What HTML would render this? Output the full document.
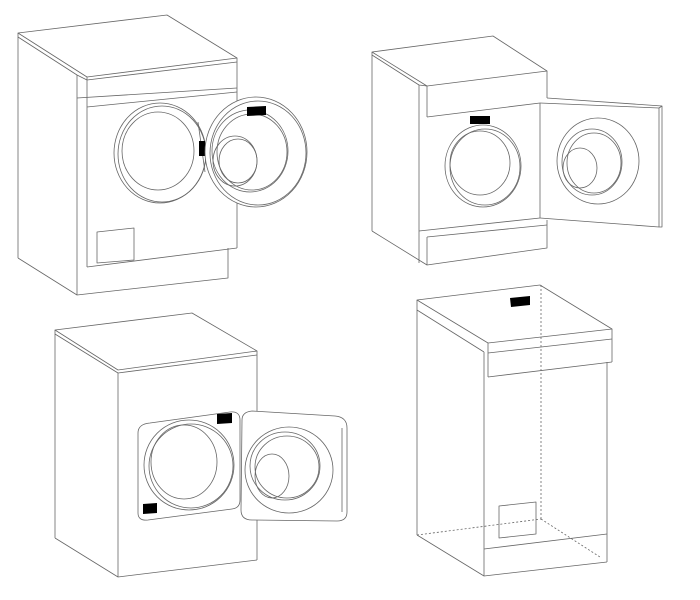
<!DOCTYPE html>
<html><head><meta charset="utf-8"><style>html,body{margin:0;padding:0;background:#fff}svg{display:block}</style></head>
<body>
<svg width="700" height="600" viewBox="0 0 700 600" xmlns="http://www.w3.org/2000/svg" fill="none" stroke="#666" stroke-width="0.8" stroke-linejoin="round">
<!-- Q1 -->
<polygon points="18,33 167,15 237,58 87,77"/>
<polyline points="18,37 77,75 87,80 237,62"/>
<line x1="18" y1="33" x2="18" y2="258"/>
<polyline points="18,258 77,295 228,278 228,248"/>
<line x1="77" y1="75" x2="77" y2="295"/>
<line x1="87" y1="77" x2="87" y2="267"/>
<line x1="237" y1="58" x2="237" y2="248"/>
<line x1="87" y1="267" x2="237" y2="248"/>
<line x1="77" y1="98" x2="237" y2="88"/>
<line x1="87" y1="107" x2="237" y2="92"/>
<polygon points="97,232 134,228 134,260 97,263"/>
<ellipse cx="160" cy="153" rx="46" ry="50"/>
<ellipse cx="162" cy="154" rx="44" ry="48"/>
<ellipse cx="158" cy="151" rx="36" ry="39"/>
<line x1="198" y1="122" x2="205" y2="172"/>
<rect x="199" y="141" width="6" height="15" fill="#000" stroke="none"/>
<ellipse cx="256" cy="152" rx="51" ry="55" fill="#fff"/>
<ellipse cx="258" cy="153" rx="48" ry="52"/>
<ellipse cx="250" cy="151" rx="38" ry="41"/>
<ellipse cx="252" cy="152" rx="35" ry="38"/>
<ellipse cx="235" cy="161" rx="22" ry="25"/>
<ellipse cx="238" cy="161" rx="19" ry="22"/>
<polygon points="247,107 266,106 266,115 247,116" fill="#000" stroke="none"/>
<!-- Q2 -->
<polygon points="372,52 493,36 547,71 427,86"/>
<polyline points="372,55 419,85 427,86"/>
<line x1="372" y1="52" x2="372" y2="231"/>
<polyline points="372,231 427,265 547,248 547,220"/>
<line x1="419" y1="85" x2="419" y2="263"/>
<line x1="427" y1="86" x2="427" y2="117"/>
<line x1="427" y1="117" x2="540" y2="103"/>
<line x1="547" y1="71" x2="547" y2="98"/>
<line x1="540" y1="103" x2="540" y2="218"/>
<line x1="419" y1="231" x2="540" y2="218"/>
<line x1="427" y1="237" x2="547" y2="225"/>
<line x1="427" y1="237" x2="427" y2="265"/>
<polyline points="547,98 662,106 662,227 659,227 540,218"/>
<polyline points="540,103 659,108 662,106"/>
<line x1="659" y1="108" x2="659" y2="227"/>
<rect x="470" y="116" width="20" height="8" fill="#000" stroke="none"/>
<ellipse cx="483" cy="166" rx="38" ry="41"/>
<ellipse cx="485" cy="167" rx="35" ry="38"/>
<ellipse cx="480" cy="163" rx="30" ry="32"/>
<ellipse cx="598" cy="161" rx="41" ry="43"/>
<ellipse cx="592" cy="162" rx="30" ry="33"/>
<ellipse cx="594" cy="163" rx="27" ry="30"/>
<ellipse cx="580" cy="168" rx="17" ry="20"/>
<!-- Q3 -->
<polygon points="55,330 192,313 257,351 118,370"/>
<polyline points="55,334 118,373 257,355"/>
<line x1="55" y1="330" x2="55" y2="538"/>
<line x1="118" y1="373" x2="118" y2="577"/>
<line x1="257" y1="351" x2="257" y2="560"/>
<polyline points="55,538 118,577 257,560"/>
<path d="M150,423 L230,412 Q240,411 240,420 L240,500 Q240,508 232,509 L148,520 Q138,521 138,513 L138,433 Q138,424 150,423 Z" fill="#fff"/>
<polygon points="217,414 232,413 232,423 217,424" fill="#000" stroke="none"/>
<polygon points="143,504 157,503 157,513 143,514" fill="#000" stroke="none"/>
<ellipse cx="189" cy="465" rx="45" ry="45"/>
<ellipse cx="191" cy="466" rx="42" ry="42"/>
<ellipse cx="184" cy="462" rx="33" ry="37"/>
<path d="M242,420 Q242,412 252,411 L335,416 Q347,417 347,428 L347,512 Q347,521 337,521 L252,520 Q241,520 241,510 Z" fill="#fff"/>
<line x1="342" y1="428" x2="342" y2="512"/>
<ellipse cx="289" cy="470" rx="44" ry="43"/>
<ellipse cx="285" cy="466" rx="35" ry="34"/>
<ellipse cx="287" cy="467" rx="32" ry="31"/>
<ellipse cx="272" cy="476" rx="17" ry="22"/>
<!-- Q4 -->
<polygon points="417,300 540,285 612,329 488,343"/>
<line x1="417" y1="310" x2="484" y2="352"/>
<line x1="417" y1="300" x2="417" y2="535"/>
<line x1="488" y1="343" x2="488" y2="377"/>
<line x1="612" y1="329" x2="612" y2="362"/>
<line x1="488" y1="353" x2="612" y2="339"/>
<line x1="488" y1="377" x2="612" y2="362"/>
<line x1="484" y1="352" x2="484" y2="576" stroke-width="1.2" stroke="#999"/>
<line x1="607" y1="362" x2="607" y2="562"/>
<polyline points="417,535 484,576 607,562"/>
<line x1="484" y1="549" x2="607" y2="534"/>
<polygon points="499,506 536,502 536,534 499,538"/>
<g stroke-dasharray="2,2">
<line x1="541" y1="285" x2="541" y2="519"/>
<line x1="417" y1="535" x2="541" y2="519"/>
<line x1="541" y1="519" x2="600" y2="557"/>
</g>
<polygon points="510,298 530,296 530,305 511,307" fill="#000" stroke="none"/>
</svg>
</body></html>
